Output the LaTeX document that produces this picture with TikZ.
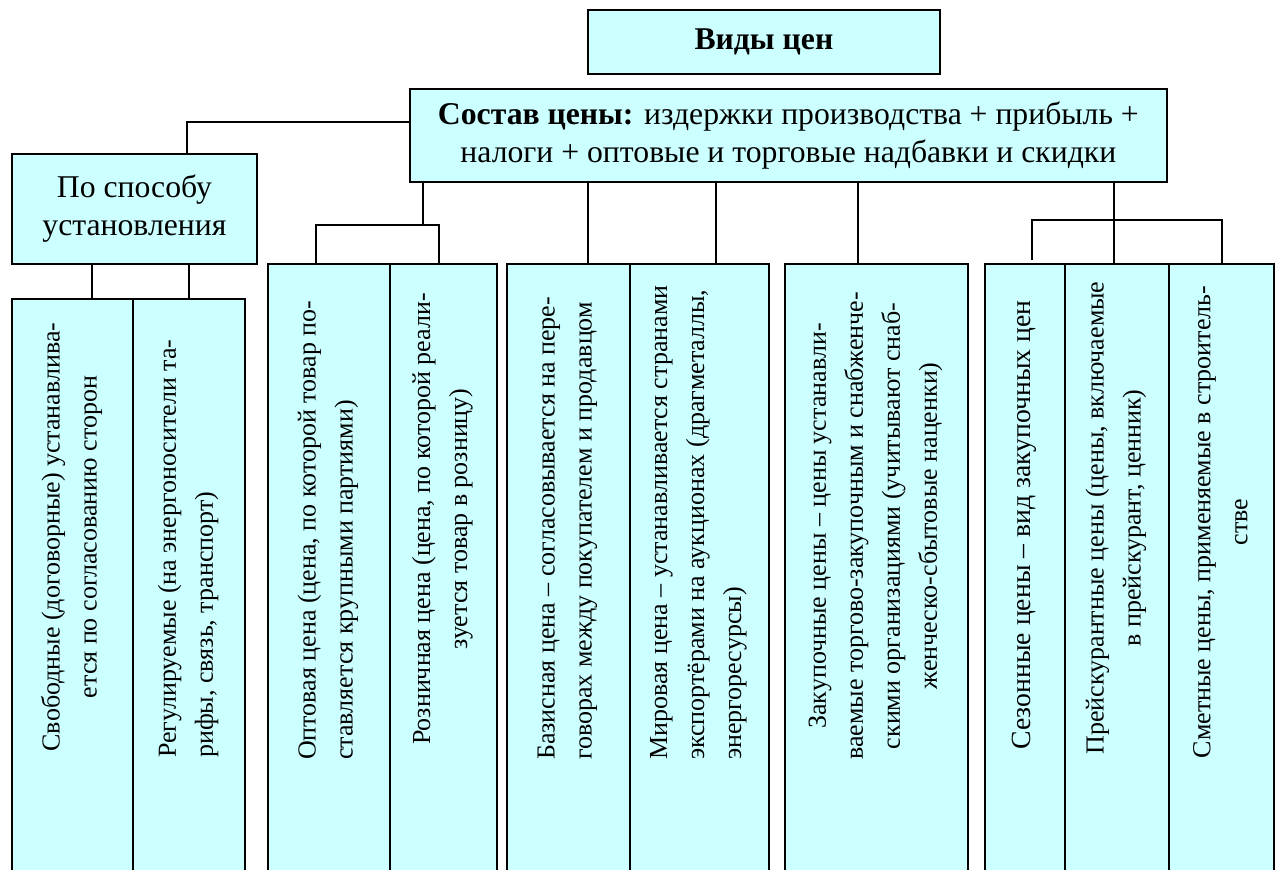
\documentclass[tikz,border=0pt]{standalone}
\usepackage{fontspec}
\setmainfont{Liberation Serif}
\definecolor{boxcyan}{RGB}{204,255,255}
\newcommand{\topfont}{\fontsize{31.7}{38}\selectfont}
\newcommand{\colfont}{\fontsize{26}{37}\selectfont}
\newcommand{\bigcolfont}{\fontsize{27.7}{37}\selectfont}

\begin{document}
\begin{tikzpicture}[x=1pt,y=-1pt,font=\topfont]
\tikzset{
  pricebox/.style={draw,line width=1.8pt,fill=boxcyan,inner sep=0pt,anchor=north west},
  coltext/.style={rotate=90,inner sep=0pt,align=center,font=\colfont},
  leftcol/.style={rotate=90,inner sep=0pt,align=left,anchor=west,font=\colfont},
  link/.style={line width=1.8pt}
}
\useasboundingbox (0,0) rectangle (1280,870);
% top boxes
\node[pricebox,minimum width=352pt,minimum height=64pt] (n_vidy) at (587,9) {\textbf{Виды цен}};
\node[pricebox,minimum width=757pt,minimum height=93pt,align=center] (n_sostav) at (409,88)
  {\textbf{Состав цены:} издержки производства + прибыль +\\налоги + оптовые и торговые надбавки и скидки};
\node[pricebox,minimum width=245pt,minimum height=110pt,align=center] (n_method) at (11,153)
  {По способу\\установления};
% column boxes
\node[pricebox,minimum width=121pt,minimum height=590pt] (n_g1a) at (11,298) {};
\node[pricebox,minimum width=112pt,minimum height=590pt] (n_g1b) at (132,298) {};
\node[pricebox,minimum width=122pt,minimum height=620pt] (n_g2a) at (267,263) {};
\node[pricebox,minimum width=107pt,minimum height=620pt] (n_g2b) at (389,263) {};
\node[pricebox,minimum width=123pt,minimum height=620pt] (n_g3a) at (506,263) {};
\node[pricebox,minimum width=139pt,minimum height=620pt] (n_g3b) at (629,263) {};
\node[pricebox,minimum width=183pt,minimum height=620pt] (n_g4) at (784,263) {};
\node[pricebox,minimum width=80pt,minimum height=620pt] (n_g5a) at (984,263) {};
\node[pricebox,minimum width=104pt,minimum height=620pt] (n_g5b) at (1064,263) {};
\node[pricebox,minimum width=105pt,minimum height=620pt] (n_g5c) at (1168,263) {};
% column texts
\node[coltext] (t_g1a) at (71.5,537) {Свободные (договорные) устанавлива-\\ется по согласованию сторон};
\node[leftcol] (t_g1b) at (188,758) {Регулируемые (на энергоносители та-\\рифы, связь, транспорт)};
\node[leftcol] (t_g2a) at (328,760) {Оптовая цена (цена, по которой товар по-\\ставляется крупными партиями)};
\node[coltext] (t_g2b) at (442.5,519) {Розничная цена (цена, по которой реали-\\зуется товар в розницу)};
\node[leftcol] (t_g3a) at (567.5,760) {Базисная цена – согласовывается на пере-\\говорах между покупателем и продавцом};
\node[leftcol] (t_g3b) at (698.5,760) {Мировая цена – устанавливается странами\\экспортёрами на аукционах (драгметаллы,\\энергоресурсы)};
\node[coltext] (t_g4) at (875.5,526) {Закупочные цены – цены устанавли-\\ваемые торгово-закупочным и снабженче-\\скими организациями (учитывают снаб-\\женческо-сбытовые наценки)};
\node[coltext,font=\bigcolfont] (t_g5a) at (1024,525) {Сезонные цены – вид закупочных цен};
\node[coltext] (t_g5b) at (1116,518) {Прейскурантные цены (цены, включаемые\\в прейскурант, ценник)};
\node[coltext] (t_g5c) at (1220.5,522) {Сметные цены, применяемые в строитель-\\стве};
% connectors
\coordinate (c_method) at (187,122);
\draw[link] (c_method -| n_sostav.west) -| (n_method.north -| c_method);
\draw[link] ([xshift=19.5pt]n_g1a.north) -- ([xshift=19.5pt]n_g1a.north |- n_method.south);
\draw[link] (n_g1b.north) -- (n_g1b.north |- n_method.south);
\coordinate (c_g2) at ([xshift=14pt,yshift=-42pt]n_sostav.south west);
\draw[link] (c_g2 |- n_sostav.south) -- (c_g2);
\draw[link] ([xshift=-13pt]n_g2a.north) |- (c_g2) -| ([xshift=-4.5pt]n_g2b.north);
\draw[link] ([xshift=19.5pt]n_g3a.north) -- ([xshift=19.5pt]n_g3a.north |- n_sostav.south);
\draw[link] ([xshift=16.5pt]n_g3b.north) -- ([xshift=16.5pt]n_g3b.north |- n_sostav.south);
\draw[link] ([xshift=-18.5pt]n_g4.north) -- ([xshift=-18.5pt]n_g4.north |- n_sostav.south);
\draw[link] ([xshift=-3pt]n_g5b.north) -- ([xshift=-3pt]n_g5b.north |- n_sostav.south);
\coordinate (c_g5) at ([xshift=-3pt,yshift=43pt]n_g5b.north);
\draw[link] ([xshift=7pt,yshift=3pt]n_g5a.north) |- (c_g5) -| ([xshift=0.5pt]n_g5c.north);
\end{tikzpicture}
\end{document}
